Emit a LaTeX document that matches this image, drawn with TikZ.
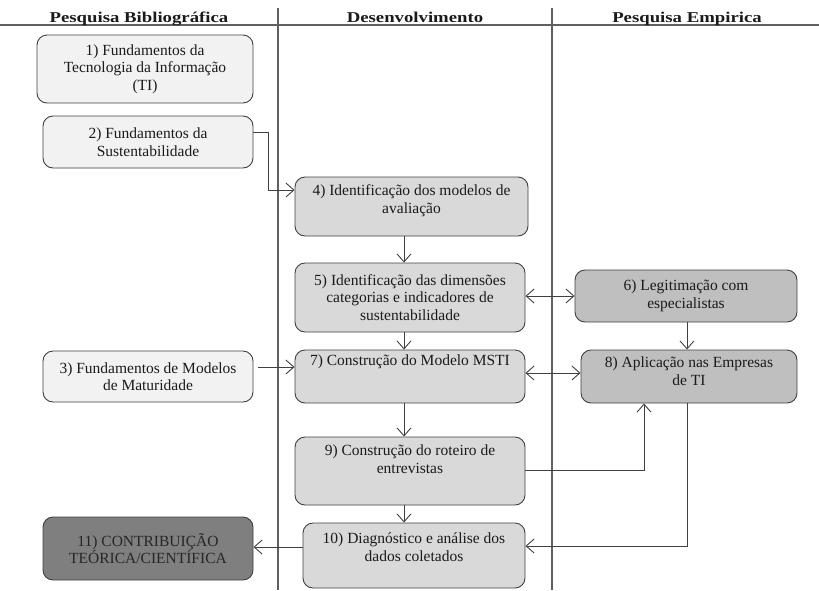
\documentclass[tikz,border=0pt]{standalone}
\usepackage{fontspec}
\usepackage{graphicx}
\setmainfont{Liberation Serif}
\usetikzlibrary{arrows.meta}

\definecolor{pale}{RGB}{242,242,242}
\definecolor{mid}{RGB}{217,217,217}
\definecolor{darker}{RGB}{191,191,191}
\definecolor{deep}{RGB}{127,127,127}
\definecolor{edgecol}{RGB}{64,64,64}
\definecolor{lanecol}{RGB}{96,96,96}
\definecolor{txtcol}{RGB}{26,26,26}

\newcommand{\bodyfont}{\fontsize{15.5}{17.5}\selectfont}
\newcommand{\headfont}{\fontsize{15}{17}\selectfont\bfseries}
% top-aligned text block: height, width, top padding, text
\newcommand{\toptext}[4]{\parbox[c][#1][t]{#2}{\centering\vspace*{#3}#4}}
\newcommand{\headtext}[1]{\scalebox{1.25}[1]{#1}}

\begin{document}
\begin{tikzpicture}[x=1pt,y=-1pt,
  stage/.style={draw=edgecol, line width=0.9pt, rounded corners=10pt,
    inner sep=0pt, align=center, font=\bodyfont, text=txtcol},
  lanehead/.style={font=\headfont, text=txtcol, anchor=base, inner sep=0pt},
  lane/.style={draw=lanecol, line width=1.4pt},
  flow/.style={draw=edgecol, line width=0.9pt,
    -{Straight Barb[length=8pt,width=14pt]}},
  twoway/.style={draw=edgecol, line width=0.9pt,
    {Straight Barb[length=8pt,width=14pt]}-{Straight Barb[length=8pt,width=14pt]}}]

\useasboundingbox (0,0) rectangle (819,590);

% swimlane frame
\draw[lane] (0,25) -- (819,25);
\draw[lane] (278,8) -- (278,590);
\draw[lane] (552,8) -- (552,590);

\node[lanehead] (h1) at (139,22) {\headtext{Pesquisa Bibliográfica}};
\node[lanehead] (h2) at (415,22) {\headtext{Desenvolvimento}};
\node[lanehead] (h3) at (687,22) {\headtext{Pesquisa Empirica}};

% bibliographic research
\node[stage, fill=pale, minimum width=216pt, minimum height=68pt] (b1) at (145,69)
  {1) Fundamentos da\\Tecnologia da Informação\\(TI)};
\node[stage, fill=pale, minimum width=210pt, minimum height=52pt] (b2) at (148,142)
  {2) Fundamentos da\\Sustentabilidade};
\node[stage, fill=pale, minimum width=210pt, minimum height=51pt] (b3) at (148,376.5)
  {3) Fundamentos de Modelos\\de Maturidade};
\node[stage, fill=deep, text=black!85, minimum width=210pt, minimum height=63pt] (b11) at (148,548.5)
  {11) CONTRIBUIÇÃO\\TEÓRICA/CIENTÍFICA};

% development
\node[stage, fill=mid, minimum width=233pt, minimum height=59pt] (b4) at (411.5,206.5)
  {\toptext{59pt}{233pt}{8pt}{4) Identificação dos modelos de\\avaliação}};
\node[stage, fill=mid, minimum width=230pt, minimum height=69pt] (b5) at (410,297.5)
  {5) Identificação das dimensões\\categorias e indicadores de\\sustentabilidade};
\node[stage, fill=mid, minimum width=230pt, minimum height=53pt] (b7) at (410,376.5)
  {\toptext{53pt}{230pt}{5pt}{7) Construção do Modelo MSTI}};
\node[stage, fill=mid, minimum width=230pt, minimum height=68pt] (b9) at (410,471)
  {\toptext{68pt}{230pt}{8pt}{9) Construção do roteiro de\\entrevistas}};
\node[stage, fill=mid, minimum width=222pt, minimum height=65pt] (b10) at (414,555.5)
  {\toptext{65pt}{222pt}{10pt}{10) Diagnóstico e análise dos\\dados coletados}};

% empirical research
\node[stage, fill=darker, minimum width=222pt, minimum height=52pt] (b6) at (686,296)
  {6) Legitimação com\\especialistas};
\node[stage, fill=darker, minimum width=216pt, minimum height=53pt] (b8) at (689,376.5)
  {\toptext{53pt}{216pt}{7pt}{8) Aplicação nas Empresas\\de TI}};

% routing points
\coordinate (vx) at (404,0);
\coordinate (k2a) at (268,132);
\coordinate (k2b) at (268,190);
\coordinate (h37) at (0,367);
\coordinate (h78) at (0,373);
\coordinate (k98) at (644,470);
\coordinate (k810) at (687,546);
\coordinate (h1011) at (0,547);

% connectors
\draw[flow] (b2.east |- k2a) -- (k2a) -- (k2b) -- (b4.west |- k2b);
\draw[flow] (b4.south -| vx) -- (b5.north -| vx);
\draw[flow] (b5.south -| vx) -- (b7.north -| vx);
\draw[flow] (b7.south -| vx) -- (b9.north -| vx);
\draw[flow] (b9.south -| vx) -- (b10.north -| vx);
\draw[twoway] (b5.east |- b6.west) -- (b6.west);
\draw[flow] (b6.south -| k810) -- (b8.north -| k810);
\draw[flow, shorten <=5pt] (b3.east |- h37) -- (b7.west |- h37);
\draw[twoway] (b7.east |- h78) -- (b8.west |- h78);
\draw[flow] (b9.east |- k98) -- (k98) -- (b8.south -| k98);
\draw[flow] (b8.south -| k810) -- (k810) -- (b10.east |- k810);
\draw[flow] (b10.west |- h1011) -- (b11.east |- h1011);

\end{tikzpicture}
\end{document}
